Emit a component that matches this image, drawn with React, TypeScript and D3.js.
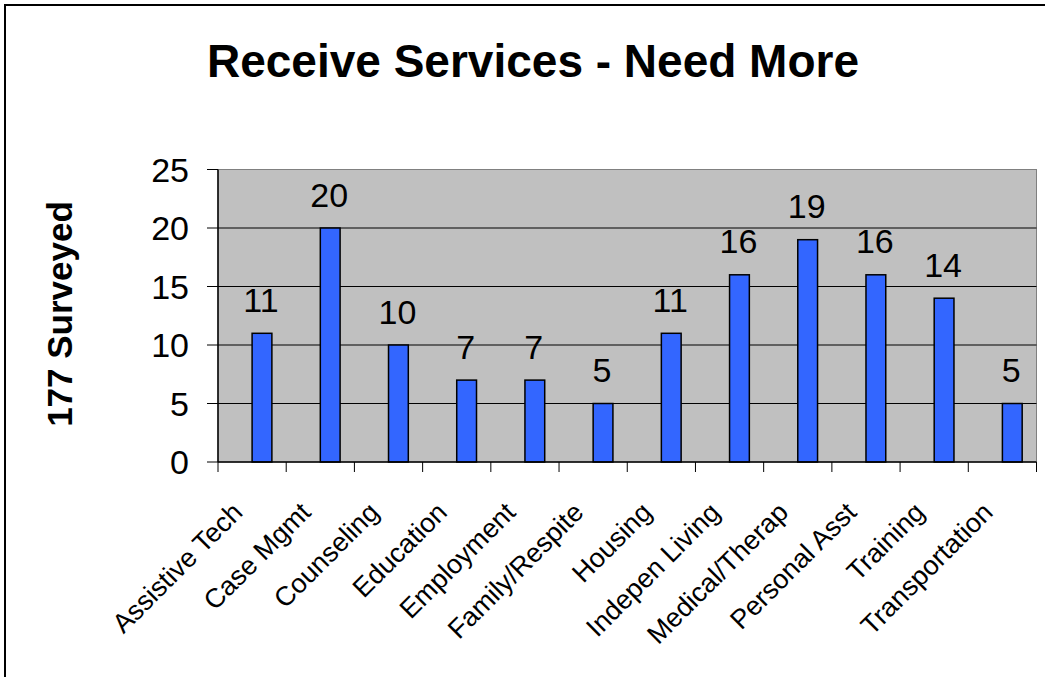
import React from "react";
import * as d3 from "d3";

const categories = [
  "Assistive Tech",
  "Case Mgmt",
  "Counseling",
  "Education",
  "Employment",
  "Family/Respite",
  "Housing",
  "Indepen Living",
  "Medical/Therap",
  "Personal Asst",
  "Training",
  "Transportation",
];
const values = [11, 20, 10, 7, 7, 5, 11, 16, 19, 16, 14, 5];
const yTicks = [0, 5, 10, 15, 20, 25];
const title = "Receive Services - Need More";
const yTitle = "177 Surveyed";

export default function App() {
  const W = 1045;
  const H = 677;
  const left = 218;
  const right = 1036.5;
  const top = 169.5;
  const bottom = 462;
  const font = "'Liberation Sans', Arial, sans-serif";

  const x = d3.scaleBand<string>().domain(categories).range([left, right]).padding(0);
  const y = d3.scaleLinear().domain([0, 25]).range([bottom, top]);
  const bw = x.bandwidth();
  const barW = bw * 0.29;

  return (
    <svg
      width={W}
      height={H}
      style={{ position: "absolute", left: 0, top: 0, background: "#fff" }}
      fontFamily={font}
    >
      <rect x={5} y={5} width={1200} height={900} fill="#fff" stroke="#000" strokeWidth={2} />
      <text x={533} y={77} textAnchor="middle" fontSize={46} fontWeight="bold">
        {title}
      </text>
      <text
        transform={`translate(72,314) rotate(-90)`}
        textAnchor="middle"
        fontSize={35}
        fontWeight="bold"
      >
        {yTitle}
      </text>
      {/* plot area */}
      <rect x={left} y={top} width={right - left} height={bottom - top} fill="#C0C0C0" stroke="#808080" strokeWidth={1} />
      {yTicks.map((t) => (
        <g key={t}>
          {t > 0 && t < 25 && (
            <line x1={left} x2={right} y1={y(t)} y2={y(t)} stroke="#000" strokeWidth={1} />
          )}
          <line x1={left - 11} x2={left} y1={y(t)} y2={y(t)} stroke="#000" strokeWidth={1} />
          <text x={189} y={y(t)} dy="0.36em" textAnchor="end" fontSize={34}>
            {t}
          </text>
        </g>
      ))}
      {/* bars */}
      {categories.map((c, i) => {
        const bx = (x(c) as number) + bw / 2;
        return (
          <g key={c}>
            <rect
              x={bx}
              y={y(values[i])}
              width={barW}
              height={bottom - y(values[i])}
              fill="#3366FF"
              stroke="#000"
              strokeWidth={1.5}
            />
            <text x={bx + barW / 2 - 1} y={y(values[i]) - 21.5} textAnchor="middle" fontSize={34}>
              {values[i]}
            </text>
          </g>
        );
      })}
      {/* axes */}
      <line x1={left} x2={left} y1={top} y2={bottom} stroke="#000" strokeWidth={1.5} />
      <line x1={left} x2={right} y1={bottom} y2={bottom} stroke="#000" strokeWidth={1.5} />
      {d3.range(categories.length + 1).map((i) => {
        const tx = left + i * bw;
        return <line key={i} x1={tx} x2={tx} y1={bottom} y2={bottom + 10} stroke="#000" strokeWidth={1} />;
      })}
      {categories.map((c) => {
        const cx = (x(c) as number) + bw / 2 - 8;
        return (
          <text
            key={c}
            transform={`translate(${cx},${514}) rotate(-45)`}
            textAnchor="end"
            fontSize={27}
          >
            {c}
          </text>
        );
      })}
    </svg>
  );
}
